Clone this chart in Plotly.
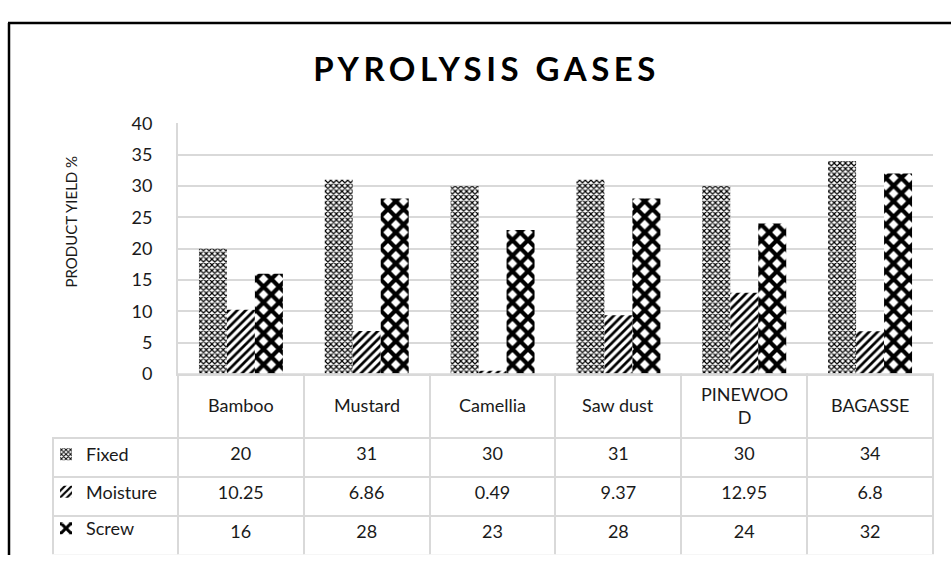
import plotly.graph_objects as go

categories = ["Bamboo", "Mustard", "Camellia", "Saw dust", "PINEWOOD", "BAGASSE"]
header_labels = ["Bamboo", "Mustard", "Camellia", "Saw dust", "PINEWOO<br>D", "BAGASSE"]
series_names = ["Fixed", "Moisture", "Screw"]
fixed = [20, 31, 30, 31, 30, 34]
moisture = [10.25, 6.86, 0.49, 9.37, 12.95, 6.8]
screw = [16, 28, 23, 28, 24, 32]
y_ticks = [0, 5, 10, 15, 20, 25, 30, 35, 40]

W, H = 951, 565
FONT = "Lato"
GRID = "#d9d9d9"
TXT = "#1a1a1a"

def px_x(x):
    return x / W

def px_y(y):
    return (H - y) / H

patterns = [
    dict(shape="x", size=4, solidity=0.5, fgcolor="black", bgcolor="white", fillmode="replace"),
    dict(shape="/", size=6, solidity=0.45, fgcolor="black", bgcolor="white", fillmode="replace"),
    dict(shape="x", size=11, solidity=0.62, fgcolor="black", bgcolor="white", fillmode="replace"),
]
values = [fixed, moisture, screw]
legends = ["legend", "legend2", "legend3"]

fig = go.Figure()
for name, vals, pat, lg in zip(series_names, values, patterns, legends):
    fig.add_trace(go.Bar(
        x=categories, y=vals, name=name,
        marker=dict(color="white", pattern=pat, line=dict(width=0)),
        legend=lg, xaxis="x", yaxis="y",
    ))

fig.add_trace(go.Table(
    domain=dict(x=[px_x(53), px_x(933)], y=[0, px_y(377)]),
    columnwidth=[125] + [126] * len(categories),
    header=dict(
        values=[""] * (len(categories) + 1),
        height=64,
        fill_color=["rgba(0,0,0,0)"] + ["rgba(255,255,255,0)"] * len(categories),
        line=dict(color=["rgba(0,0,0,0)"] + [GRID] * len(categories), width=2),
        font=dict(family=FONT, size=18, color=TXT),
    ),
    cells=dict(
        values=[["", "", ""]] + [[str(a), str(b), str(c)] for a, b, c in zip(fixed, moisture, screw)],
        height=39,
        align="center",
        fill_color="white",
        line=dict(color=GRID, width=2),
        font=dict(family=FONT, size=18, color=TXT),
    ),
))

row_centers = [460.5, 499.5, 537.5]
leg_common = dict(
    x=px_x(46), xanchor="left", yanchor="middle",
    bgcolor="rgba(0,0,0,0)", borderwidth=0, itemwidth=30,
    font=dict(family=FONT, size=18, color=TXT),
    itemclick=False, itemdoubleclick=False,
)

header_annotations = [
    dict(text=lab, x=cat, xref="x", y=px_y(409), yref="paper",
         xanchor="center", yanchor="middle", showarrow=False,
         font=dict(family=FONT, size=18, color=TXT))
    for cat, lab in zip(categories, header_labels)
]

fig.update_layout(
    width=W, height=H,
    margin=dict(l=0, r=0, t=0, b=0),
    paper_bgcolor="white", plot_bgcolor="white",
    barmode="group", bargap=0.333, bargroupgap=0,
    showlegend=True,
    legend=dict(y=px_y(row_centers[0]), **leg_common),
    legend2=dict(y=px_y(row_centers[1]), **leg_common),
    legend3=dict(y=px_y(row_centers[2]), **leg_common),
    xaxis=dict(
        domain=[px_x(178), px_x(933)], showticklabels=False, ticks="",
        showgrid=False, showline=True, linecolor=GRID, linewidth=2, fixedrange=True,
    ),
    yaxis=dict(
        domain=[px_y(376.5), px_y(116)], range=[0, 40], tickvals=y_ticks,
        showgrid=True, gridcolor=GRID, gridwidth=1.5,
        showline=True, linecolor=GRID, linewidth=2, ticks="", zeroline=False,
        tickfont=dict(family=FONT, size=18, color=TXT), ticklabelstandoff=20,
        fixedrange=True,
    ),
    annotations=[
        dict(text="<b>PYROLYSIS GASES</b>", x=px_x(486), y=px_y(58.5), xref="paper", yref="paper",
             xanchor="center", yanchor="middle",
             showarrow=False, font=dict(family=FONT, size=33, color="black")),
        dict(text="PRODUCT YIELD %", x=px_x(71), y=px_y(218), xref="paper", yref="paper",
             xanchor="center", yanchor="middle",
             showarrow=False, textangle=-90, font=dict(family=FONT, size=15, color=TXT)),
    ] + header_annotations,
    shapes=[
        dict(type="line", xref="paper", yref="paper", x0=px_x(8), x1=1, y0=px_y(11.5), y1=px_y(11.5),
             line=dict(color="black", width=2.5)),
        dict(type="line", xref="paper", yref="paper", x0=px_x(9), x1=px_x(9), y0=px_y(11.5), y1=0,
             line=dict(color="black", width=2.5)),
    ],
)

post = """
document.documentElement.style.margin = '0px';
document.documentElement.style.overflow = 'hidden';
document.body.style.margin = '0px';
document.body.style.overflow = 'hidden';
var gd = document.getElementById('{plot_id}');
gd.style.position = 'fixed';
gd.style.top = '0px';
gd.style.left = '0px';
document.querySelectorAll('g.annotation text').forEach(function (t) {
  if (t.textContent.indexOf('PYROLYSIS') >= 0) { t.style.letterSpacing = '4.5px'; }
});
"""

fig.write_html("out.html", post_script=post, config={"displayModeBar": False})
